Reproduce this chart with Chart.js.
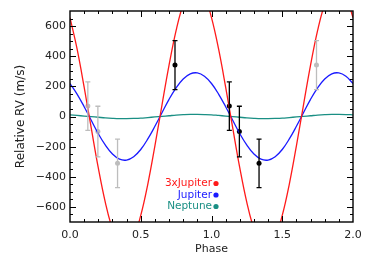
<!DOCTYPE html>
<html>
<head>
<meta charset="utf-8">
<script src="https://cdn.jsdelivr.net/npm/chart.js@4"></script>
<style>
  html, body { margin: 0; padding: 0; background: #fff; }
  #wrap { width: 374px; height: 267px; }
</style>
</head>
<body>
<div id="wrap"><canvas id="rvChart" width="374" height="267"></canvas></div>
<script>
// model curves, sampled every 0.05 in phase
const curvePhase = [0, 0.05, 0.1, 0.15, 0.2, 0.25, 0.3, 0.35, 0.4, 0.45, 0.5, 0.55, 0.6, 0.65, 0.7, 0.75, 0.8, 0.85, 0.9, 0.95,
  1.0, 1.05, 1.1, 1.15, 1.2, 1.25, 1.3, 1.35, 1.4, 1.45, 1.5, 1.55, 1.6, 1.65, 1.7, 1.75, 1.8, 1.85, 1.9, 1.95, 2.0];
const triJupiterRV = [656, 448, 195, -76, -341, -571, -746, -848, -867, -801, -656, -448, -195, 76, 341, 571, 746, 848, 867, 801,
  656, 448, 195, -76, -341, -571, -746, -848, -867, -801, -656, -448, -195, 76, 341, 571, 746, 848, 867, 801, 656];
const jupiterRV = [219, 149, 65, -25, -114, -190, -249, -283, -289, -267, -219, -149, -65, 25, 114, 190, 249, 283, 289, 267,
  219, 149, 65, -25, -114, -190, -249, -283, -289, -267, -219, -149, -65, 25, 114, 190, 249, 283, 289, 267, 219];
const neptuneRV = [11, 7, 3, -1, -5, -9, -12, -14, -14, -13, -11, -7, -3, 1, 5, 9, 12, 14, 14, 13,
  11, 7, 3, -1, -5, -9, -12, -14, -14, -13, -11, -7, -3, 1, 5, 9, 12, 14, 14, 13, 11];

// measurements (black) and their phase-wrapped copies (grey)
const obsPhase = [0.742, 1.126, 1.197, 1.336];
const obsRV = [341, 69, -100, -311];
const obsErr = [163, 161, 168, 161];
const wrapPhase = [1.742, 0.126, 0.197, 0.336];

const xTickValues = [0, 0.5, 1, 1.5, 2];
const yTickValues = [-600, -400, -200, 0, 200, 400, 600];

const legendLabels = ["3xJupiter", "Jupiter", "Neptune"];
const legendColors = ["#ff1a1a", "#1a1aff", "#1a8f84"];

const FONT = "'DejaVu Sans', sans-serif";

function toPoints(xs, ys) {
  return xs.map((x, i) => ({ x: x, y: ys[i] }));
}

// error bars for the point datasets
const errorBars = {
  id: "errorBars",
  afterDatasetsDraw(chart) {
    const { ctx, scales: { x, y } } = chart;
    chart.data.datasets.forEach((ds) => {
      if (!ds.errors) return;
      ctx.save();
      ctx.strokeStyle = ds.borderColor;
      ctx.lineWidth = 1.3;
      ds.data.forEach((p, i) => {
        const px = x.getPixelForValue(p.x);
        const top = y.getPixelForValue(p.y + ds.errors[i]);
        const bot = y.getPixelForValue(p.y - ds.errors[i]);
        ctx.beginPath();
        ctx.moveTo(px, top); ctx.lineTo(px, bot);
        ctx.moveTo(px - 2.5, top); ctx.lineTo(px + 2.5, top);
        ctx.moveTo(px - 2.5, bot); ctx.lineTo(px + 2.5, bot);
        ctx.stroke();
      });
      ctx.restore();
    });
  }
};

// box frame with inward major/minor ticks on all four sides
const frameTicks = {
  id: "frameTicks",
  afterDraw(chart) {
    const { ctx, chartArea: a, scales: { x, y } } = chart;
    ctx.save();
    ctx.strokeStyle = "#000";
    ctx.lineWidth = 1.4;
    ctx.strokeRect(a.left, a.top, a.right - a.left, a.bottom - a.top);
    ctx.lineWidth = 1;
    ctx.beginPath();
    for (let i = 1; i < 20; i++) {
      const px = Math.round(x.getPixelForValue(i / 10)) + 0.5;
      const len = i % 5 === 0 ? 6 : 3;
      ctx.moveTo(px, a.bottom); ctx.lineTo(px, a.bottom - len);
      ctx.moveTo(px, a.top); ctx.lineTo(px, a.top + len);
    }
    for (let v = -650; v <= 650; v += 50) {
      const py = Math.round(y.getPixelForValue(v)) + 0.5;
      const len = v % 200 === 0 ? 6 : 3;
      ctx.moveTo(a.left, py); ctx.lineTo(a.left + len, py);
      ctx.moveTo(a.right, py); ctx.lineTo(a.right - len, py);
    }
    ctx.stroke();

    // legend, right aligned text with a dot
    ctx.font = "10.5px " + FONT;
    ctx.textAlign = "right";
    ctx.textBaseline = "middle";
    legendLabels.forEach((lab, i) => {
      const ly = 183.5 + i * 11.5;
      ctx.fillStyle = legendColors[i];
      ctx.fillText(lab, 212, ly);
      ctx.beginPath();
      ctx.arc(216, ly, 2.6, 0, Math.PI * 2);
      ctx.fill();
    });
    ctx.restore();
  }
};

const curve = (data, color) => ({
  data: toPoints(curvePhase, data),
  showLine: true,
  borderColor: color,
  borderWidth: 1.3,
  pointRadius: 0,
  tension: 0.4,
  fill: false
});

new Chart(document.getElementById("rvChart"), {
  type: "scatter",
  data: {
    datasets: [
      curve(triJupiterRV, "#ff1a1a"),
      curve(jupiterRV, "#1a1aff"),
      curve(neptuneRV, "#1a8f84"),
      {
        data: toPoints(wrapPhase, obsRV),
        errors: obsErr,
        borderColor: "#bdbdbd",
        backgroundColor: "#bdbdbd",
        pointRadius: 2.5,
        borderWidth: 0
      },
      {
        data: toPoints(obsPhase, obsRV),
        errors: obsErr,
        borderColor: "#000",
        backgroundColor: "#000",
        pointRadius: 2.5,
        borderWidth: 0
      }
    ]
  },
  options: {
    responsive: false,
    animation: false,
    devicePixelRatio: 1,
    layout: { padding: { left: 0, top: 11, right: 21, bottom: 0 } },
    plugins: { legend: { display: false }, tooltip: { enabled: false } },
    scales: {
      x: {
        type: "linear",
        min: 0,
        max: 2,
        grid: { display: false, drawTicks: false },
        border: { display: false },
        afterBuildTicks: (s) => { s.ticks = xTickValues.map(v => ({ value: v })); },
        afterFit: (s) => { s.height = 45; },
        ticks: {
          padding: 7,
          color: "#222",
          font: { family: FONT, size: 11 },
          maxRotation: 0,
          callback: (v) => Number(v).toFixed(1)
        },
        title: {
          display: true,
          text: "Phase",
          color: "#222",
          font: { family: FONT, size: 11 },
          padding: { top: 0, bottom: 11 }
        }
      },
      y: {
        min: -700,
        max: 700,
        grid: { display: false, drawTicks: false },
        border: { display: false },
        afterBuildTicks: (s) => { s.ticks = yTickValues.map(v => ({ value: v })); },
        afterFit: (s) => { s.width = 70; },
        ticks: {
          padding: 4,
          color: "#222",
          font: { family: FONT, size: 11 },
          callback: (v) => String(v).replace("-", "\u2212")
        },
        title: {
          display: true,
          text: "Relative RV (m/s)",
          color: "#222",
          font: { family: FONT, size: 12 },
          padding: { top: 14, bottom: 0 }
        }
      }
    }
  },
  plugins: [errorBars, frameTicks]
});
</script>
</body>
</html>
